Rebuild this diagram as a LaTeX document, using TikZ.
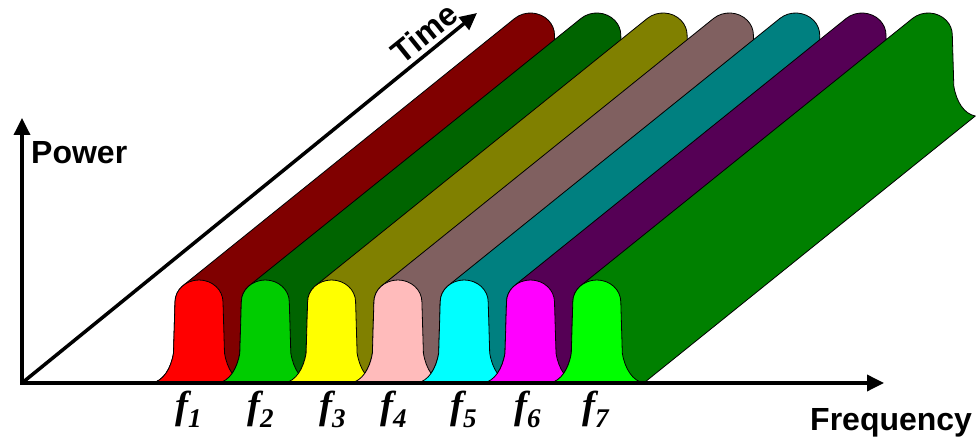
\documentclass[tikz,border=0pt]{standalone}
\usepackage{fontspec}
\setmainfont{Liberation Sans}
\newfontfamily\flabelfont{Liberation Serif}
\usetikzlibrary{arrows.meta}
\definecolor{rA}{RGB}{128,0,0}
\definecolor{rB}{RGB}{0,100,0}
\definecolor{rC}{RGB}{128,128,0}
\definecolor{rD}{RGB}{128,96,96}
\definecolor{rE}{RGB}{0,128,128}
\definecolor{rF}{RGB}{85,0,85}
\definecolor{rG}{RGB}{0,128,0}
\definecolor{fA}{RGB}{255,0,0}
\definecolor{fB}{RGB}{0,204,0}
\definecolor{fC}{RGB}{255,255,0}
\definecolor{fD}{RGB}{255,187,187}
\definecolor{fE}{RGB}{0,255,255}
\definecolor{fF}{RGB}{255,0,255}
\definecolor{fG}{RGB}{0,255,0}
\tikzset{
  ridgebody/.style={draw=black, line width=0.8pt, line join=round},
  facebody/.style={draw=black, line width=0.8pt, line join=round},
  axisline/.style={line width=3.5pt, line join=miter},
  axlabel/.style={font=\fontsize{32}{32}\selectfont\bfseries, inner sep=0pt},
  flab/.style={font=\flabelfont\fontsize{39}{39}\selectfont\bfseries\itshape, inner sep=0pt, anchor=base west}
}
\newcommand\fsub[1]{f\raisebox{-9pt}{\fontsize{27}{27}\selectfont #1}}
\begin{document}
\begin{tikzpicture}[x=1pt,y=1pt]
\useasboundingbox (0,0) rectangle (980,443);
% ridges (extrusions along time)
\foreach \c/\col in {199/rA,265.3/rB,331.6/rC,397.9/rD,464.2/rE,530.5/rF,596.8/rG}{
  \begin{scope}[shift={(\c,60)}]
    \path[ridgebody, fill=\col] (-47,0) .. controls (-36,2) and (-28,14) .. (-25.5,30)
      -- (-24,81) arc[start angle=180, end angle=131.3, x radius=24, y radius=22]
      -- ++(331.5,267) arc[start angle=131.3, end angle=0, x radius=24, y radius=22]
      -- (357,297) .. controls (359.5,281) and (367.5,269) .. (378.5,267)
      -- (47,0) -- cycle;
  \end{scope}
}
% front pulses
\foreach \c/\col in {199/fA,265.3/fB,331.6/fC,397.9/fD,464.2/fE,530.5/fF,596.8/fG}{
  \begin{scope}[shift={(\c,60)}]
    \path[facebody, fill=\col] (-47,0) .. controls (-36,2) and (-28,14) .. (-25.5,30)
      -- (-24,81) arc[start angle=180, end angle=0, x radius=24, y radius=22]
      -- (25.5,30) .. controls (28,14) and (36,2) .. (47,0) -- cycle;
  \end{scope}
}
% axes
\coordinate (O) at (22,60);
\coordinate (P) at (22,325);
\coordinate (F) at (884,60);
\coordinate (T) at (477,430);
\draw[axisline, {Triangle[length=17pt,width=16pt]}-{Triangle[length=17pt,width=16pt]}] (P) -- (O) -- (F);
\draw[axisline, -{Triangle[length=17pt,width=16pt]}] (O) -- (T);
% labels
\node[axlabel, anchor=base west] (pw) at (31,279) {Power};
\node[axlabel, anchor=base west] (fq) at (810,12) {Frequency};
\node[axlabel, rotate=38.85] (tm) at (424,410) {Time};
\node[flab] (l1) at (175,24) {\fsub{1}};
\node[flab] (l2) at (247,24) {\fsub{2}};
\node[flab] (l3) at (319,24) {\fsub{3}};
\node[flab] (l4) at (380,24) {\fsub{4}};
\node[flab] (l5) at (450,24) {\fsub{5}};
\node[flab] (l6) at (514,24) {\fsub{6}};
\node[flab] (l7) at (582,24) {\fsub{7}};
\end{tikzpicture}
\end{document}
